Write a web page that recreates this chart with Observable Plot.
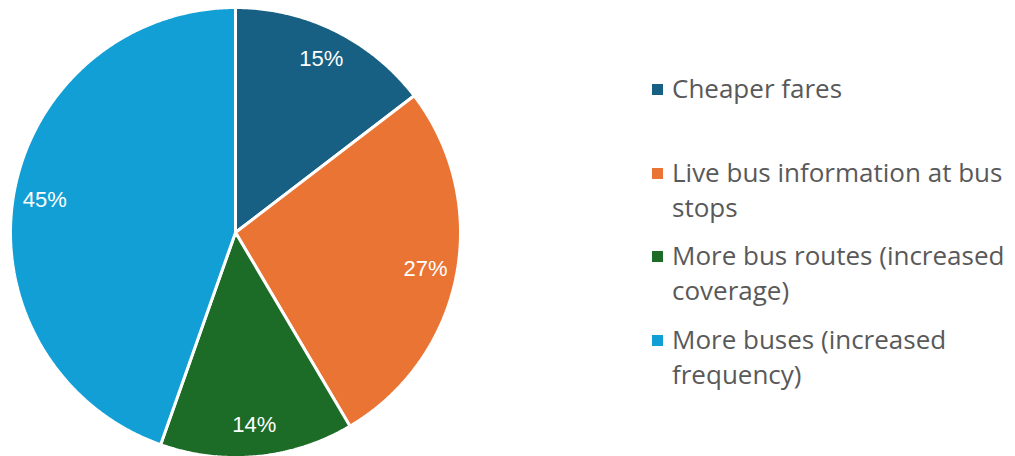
<!DOCTYPE html>
<html>
<head>
<meta charset="utf-8">
<script src="https://cdn.jsdelivr.net/npm/d3@7"></script>
<script src="https://cdn.jsdelivr.net/npm/@observablehq/plot@0.6"></script>
<style>
  html, body { margin: 0; padding: 0; background: #fff; }
  #wrap { position: relative; width: 1015px; height: 456px; overflow: hidden; }
  #legend { position: absolute; left: 652px; top: 0; font-family: "Open Sans", Lato, sans-serif; color: #595959; font-size: 26px; line-height: 35px; }
  .item { position: absolute; left: 0; width: 380px; display: flex; }
  .sw { width: 11px; height: 11px; flex: 0 0 11px; margin-top: 13px; margin-right: 9px; }
</style>
</head>
<body>
<div id="wrap"><div id="legend"></div></div>
<script>
const categories = ["Cheaper fares", "Live bus information at bus stops", "More bus routes (increased coverage)", "More buses (increased frequency)"];
const values = [14.6, 26.9, 13.9, 44.6];
const labels = ["15%", "27%", "14%", "45%"];
const colors = ["#176083", "#EA7433", "#1C6B26", "#129FD6"];
const legendLines = [["Cheaper fares"], ["Live bus information at bus", "stops"], ["More bus routes (increased", "coverage)"], ["More buses (increased", "frequency)"]];
const legendTops = [71, 155, 238, 322];

const W = 1015, H = 456, cx = 235, cy = 232, R = 225;
const total = d3.sum(values);
const poly = [];
const labelPts = [];
let acc = 0;
categories.forEach((c, i) => {
  const a0 = acc / total * 2 * Math.PI;
  acc += values[i];
  const a1 = acc / total * 2 * Math.PI;
  poly.push({cat: c, x: 0, y: 0});
  const n = Math.max(2, Math.ceil((a1 - a0) / (Math.PI / 360)));
  for (let j = 0; j <= n; j++) {
    const a = a0 + (a1 - a0) * j / n;
    poly.push({cat: c, x: Math.sin(a), y: Math.cos(a)});
  }
  poly.push({cat: c, x: 0, y: 0});
  const am = (a0 + a1) / 2;
  labelPts.push({cat: c, label: labels[i], x: 0.86 * Math.sin(am), y: 0.86 * Math.cos(am)});
});

const chart = Plot.plot({
  width: W, height: H,
  margin: 0,
  x: {domain: [-cx / R, (W - cx) / R], axis: null},
  y: {domain: [-(H - cy) / R, cy / R], axis: null},
  color: {domain: categories, range: colors},
  style: {fontFamily: "'Liberation Sans', Arial, sans-serif", background: "transparent"},
  marks: [
    Plot.line(poly, {x: "x", y: "y", z: "cat", fill: "cat", stroke: "white", strokeWidth: 3, strokeLinejoin: "miter", curve: "linear"}),
    Plot.text(labelPts, {x: "x", y: "y", text: "label", fill: "white", fontSize: 22})
  ]
});
chart.style.position = "absolute";
chart.style.left = "0"; chart.style.top = "0";
document.getElementById("wrap").prepend(chart);

const leg = document.getElementById("legend");
categories.forEach((c, i) => {
  const it = document.createElement("div");
  it.className = "item";
  it.style.top = legendTops[i] + "px";
  const sw = document.createElement("div");
  sw.className = "sw"; sw.style.background = colors[i];
  const tx = document.createElement("div");
  tx.innerHTML = legendLines[i].join("<br>");
  it.append(sw, tx);
  leg.append(it);
});
</script>
</body>
</html>
